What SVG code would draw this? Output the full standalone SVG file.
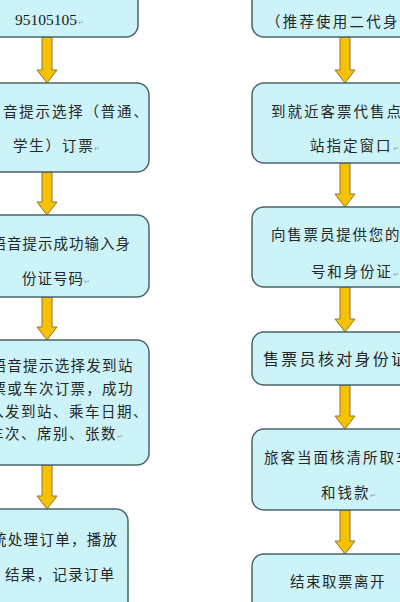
<svg xmlns="http://www.w3.org/2000/svg" width="400" height="602" viewBox="0 0 400 602">
<defs>
<style>
.box{fill:#cbf3f8;stroke:#4b6468;stroke-width:1.5}
.arr{fill:#f6c200;stroke:#8a7440;stroke-width:1}
.t{font-family:"Noto Sans CJK SC","Noto Sans CJK JP",sans-serif;font-size:14.5px;fill:#262626}
.big{font-size:16px}
.num{font-family:"Liberation Serif",serif;font-size:15.5px;fill:#1a1a1a}
.rm{font-family:"DejaVu Sans",sans-serif;font-size:7px;fill:#9a9a9a}
</style>
</defs>
<rect width="400" height="602" fill="#ffffff"/>
<g id="connectors">
<polygon class="arr" points="42,37 52,37 52,70 57,70 47,83 37,70 42,70"/>
<polygon class="arr" points="42,172 52,172 52,202 57,202 47,215 37,202 42,202"/>
<polygon class="arr" points="42,297 52,297 52,327 57,327 47,340 37,327 42,327"/>
<polygon class="arr" points="42,465 52,465 52,496 57,496 47,509 37,496 42,496"/>
<polygon class="arr" points="340,37 350,37 350,70 355,70 345,83 335,70 340,70"/>
<polygon class="arr" points="340,163 350,163 350,194 355,194 345,207 335,194 340,194"/>
<polygon class="arr" points="340,287 350,287 350,319 355,319 345,332 335,319 340,319"/>
<polygon class="arr" points="340,385 350,385 350,416 355,416 345,429 335,416 340,416"/>
<polygon class="arr" points="340,510 350,510 350,541 355,541 345,554 335,541 340,541"/>
</g>
<g id="L1">
<rect class="box" x="-60" y="-40" width="198" height="77" rx="12"/>
<text class="num" x="15" y="25">95105105</text><text class="rm" x="78" y="25">↵</text>
</g>
<g id="L2">
<rect class="box" x="-60" y="83" width="209" height="89" rx="12"/>
<text class="t" x="3" y="117" letter-spacing="1.8">音提示选择（普通、</text>
<text class="t" x="13" y="151" letter-spacing="1.8">学生）订票</text><text class="rm" x="94" y="151">↵</text>
</g>
<g id="L3">
<rect class="box" x="-60" y="215" width="209" height="82" rx="12"/>
<text class="t" x="-8.5" y="249" letter-spacing="1">语音提示成功输入身</text>
<text class="t" x="22" y="284" letter-spacing="1">份证号码</text><text class="rm" x="84" y="284">↵</text>
</g>
<g id="L4">
<rect class="box" x="-60" y="340" width="209" height="125" rx="12"/>
<text class="t" x="-8.5" y="371" letter-spacing="1.3">语音提示选择发到站</text>
<text class="t" x="-8.5" y="394" letter-spacing="1.3">票或车次订票，成功</text>
<text class="t" x="-11" y="417" letter-spacing="1.5">入发到站、乘车日期、</text>
<text class="t" x="-11" y="439" letter-spacing="1.5">车次、席别、张数</text><text class="rm" x="117" y="439">↵</text>
</g>
<g id="L5">
<rect class="box" x="-60" y="509" width="188" height="120" rx="12"/>
<text class="t" x="-8" y="545" letter-spacing="1.3">统处理订单，播放</text>
<text class="t" x="5" y="580" letter-spacing="1.3">结果，记录订单</text>
</g>
<g id="R1">
<rect class="box" x="252" y="-40" width="210" height="77" rx="12"/>
<text class="t" x="266" y="27" letter-spacing="2.2">（推荐使用二代身份</text>
</g>
<g id="R2">
<rect class="box" x="252" y="83" width="210" height="80" rx="12"/>
<text class="t" x="271" y="117" letter-spacing="2">到就近客票代售点或</text>
<text class="t" x="310" y="151" letter-spacing="2">站指定窗口</text><text class="rm" x="393" y="151">↵</text>
</g>
<g id="R3">
<rect class="box" x="252" y="207" width="210" height="80" rx="12"/>
<text class="t" x="271" y="240" letter-spacing="1.8">向售票员提供您的车</text>
<text class="t" x="311" y="277" letter-spacing="1.8">号和身份证</text><text class="rm" x="393" y="277">↵</text>
</g>
<g id="R4">
<rect class="box" x="252" y="332" width="210" height="53" rx="12"/>
<text class="t big" x="263" y="365" letter-spacing="2.3">售票员核对身份证</text>
</g>
<g id="R5">
<rect class="box" x="252" y="429" width="210" height="81" rx="12"/>
<text class="t" x="264" y="463" letter-spacing="2">旅客当面核清所取车</text>
<text class="t" x="321" y="498" letter-spacing="2">和钱款</text><text class="rm" x="370" y="498">↵</text>
</g>
<g id="R6">
<rect class="box" x="252" y="554" width="210" height="80" rx="12"/>
<text class="t" x="290" y="587" font-size="17" letter-spacing="1.5">结束取票离开</text>
</g>
</svg>
